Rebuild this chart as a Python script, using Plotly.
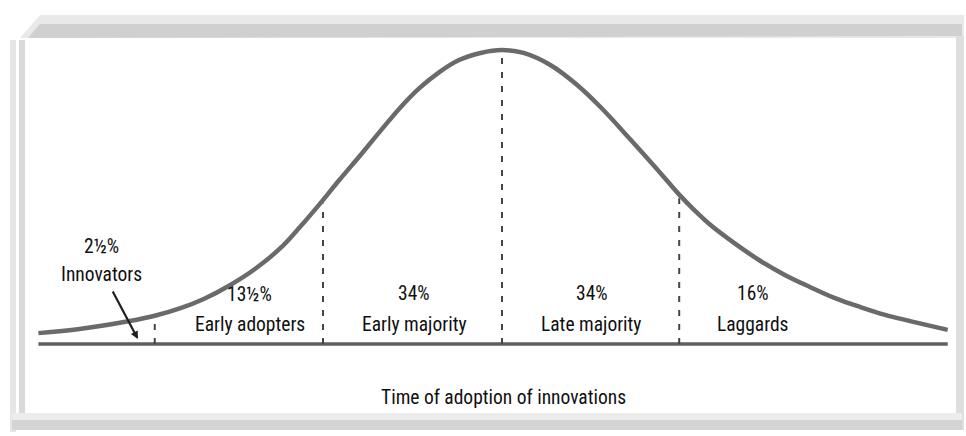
import numpy as np
import plotly.graph_objects as go

# Adoption curve: time in standard deviations from the mean adoption time,
# height relative to the peak of the curve
curve_time = [-2.59, -2.36, -2.08, -1.94, -1.80, -1.66, -1.52, -1.38, -1.24, -1.13,
              -1.02, -0.91, -0.79, -0.68, -0.57, -0.46, -0.35, -0.24, -0.12, 0.00,
              0.12, 0.27, 0.42, 0.55, 0.72, 0.87, 0.99, 1.08, 1.16, 1.30, 1.44,
              1.58, 1.72, 1.86, 2.00, 2.14, 2.28, 2.49]
curve_height = [0.037, 0.051, 0.078, 0.096, 0.121, 0.155, 0.200, 0.255, 0.325, 0.397,
                0.475, 0.557, 0.643, 0.724, 0.803, 0.871, 0.925, 0.966, 0.990, 1.000,
                0.990, 0.949, 0.881, 0.806, 0.694, 0.592, 0.508, 0.452, 0.407, 0.342,
                0.284, 0.235, 0.194, 0.156, 0.126, 0.099, 0.078, 0.048]

# Boundaries between adopter categories (std. deviations from the mean)
adopter_bounds = [-1.94, -1.0, 0.0, 0.99]

categories = ["Innovators", "Early adopters", "Early majority", "Late majority", "Laggards"]
shares = ["2½%", "13½%", "34%", "34%", "16%"]
axis_title = "Time of adoption of innovations"

W, H = 966, 436
FONT = "Roboto Condensed, Open Sans Condensed, Liberation Sans Narrow, Liberation Sans, sans-serif"
FONT_SIZE = 19.5
TEXT = "#101010"


def px(x, y):
    """Pixel position on the page -> paper coordinates."""
    return x / W, 1 - y / H


def rect(x0, y0, x1, y1, color):
    a, b = px(x0, y0)
    c, d = px(x1, y1)
    return dict(type="rect", xref="paper", yref="paper", x0=a, y0=b, x1=c, y1=d,
                fillcolor=color, line=dict(width=0), layer="below")


def poly(points, color):
    pts = [px(x, y) for x, y in points]
    path = "M " + " L ".join(f"{a:.5f},{b:.5f}" for a, b in pts) + " Z"
    return dict(type="path", xref="paper", yref="paper", path=path,
                fillcolor=color, line=dict(width=0), layer="below")


fig = go.Figure()

# baseline (time axis)
fig.add_trace(go.Scatter(
    x=[curve_time[0], curve_time[-1]], y=[0, 0], mode="lines",
    line=dict(color="#5e5e5e", width=3.5), hoverinfo="skip"))

# dashed separators between categories, from the axis up to the curve
for b in adopter_bounds:
    top = float(np.interp(b, curve_time, curve_height))
    fig.add_trace(go.Scatter(
        x=[b, b], y=[0, top - 0.012], mode="lines",
        line=dict(color="#444444", width=2, dash="6px,8px"), hoverinfo="skip"))

# bell curve
fig.add_trace(go.Scatter(
    x=curve_time, y=curve_height, mode="lines",
    line=dict(color="#6a6a6a", width=4.5, shape="spline", smoothing=1.0),
    hoverinfo="skip"))

# label placement (x in std. deviations, y as fraction of peak)
label_x = [-2.235, -1.41, -0.49, 0.50, 1.40]
share_y = [0.330, 0.170, 0.173, 0.173, 0.173]
name_y = [0.238, 0.065, 0.065, 0.065, 0.065]

label_font = dict(family=FONT, size=FONT_SIZE, color=TEXT)
annotations = []
for cat, sh, lx, sy, ny in zip(categories, shares, label_x, share_y, name_y):
    annotations.append(dict(x=lx, y=sy, xref="x", yref="y", text=sh, showarrow=False,
                            xanchor="center", yanchor="middle", font=label_font))
    annotations.append(dict(x=lx, y=ny, xref="x", yref="y", text=cat, showarrow=False,
                            xanchor="center", yanchor="middle", font=label_font))

# pointer from the innovators label to their slice of the curve
annotations.append(dict(x=-2.034, y=0.017, ax=-2.179, ay=0.184, xref="x", yref="y",
                        axref="x", ayref="y", text="", showarrow=True,
                        arrowhead=2, arrowsize=0.7, arrowwidth=2.2,
                        arrowcolor="#1e1e1e", standoff=0, startstandoff=0))

annotations.append(dict(x=0.01, y=px(0, 397)[1], xref="x", yref="paper",
                        text=axis_title, showarrow=False,
                        xanchor="center", yanchor="middle", font=label_font))

# panel frame
shapes = [
    poly([(20, 38), (40, 15), (964, 15), (964, 38)], "#e9e9e9"),
    poly([(28, 38), (40, 24), (962, 24), (962, 36)], "#d0d0d0"),
    rect(10, 40, 16, 432, "#e6e6e6"),
    rect(19, 40, 25, 430, "#d9d9d9"),
    rect(956, 36, 964, 430, "#dedede"),
    rect(12, 413, 962, 420, "#ececec"),
    rect(12, 420, 962, 430, "#d4d4d4"),
]

fig.update_layout(
    width=W, height=H,
    margin=dict(l=0, r=0, t=0, b=0),
    paper_bgcolor="white", plot_bgcolor="rgba(0,0,0,0)",
    showlegend=False,
    xaxis=dict(domain=[20 / W, 960 / W], range=[(20 - 502) / 179, (960 - 502) / 179],
               visible=False, fixedrange=True),
    yaxis=dict(domain=[62 / H, 416 / H], range=[-30 / 294, 1 + 30 / 294],
               visible=False, fixedrange=True),
    annotations=annotations,
    shapes=shapes,
)

fig.write_html("out.html")
